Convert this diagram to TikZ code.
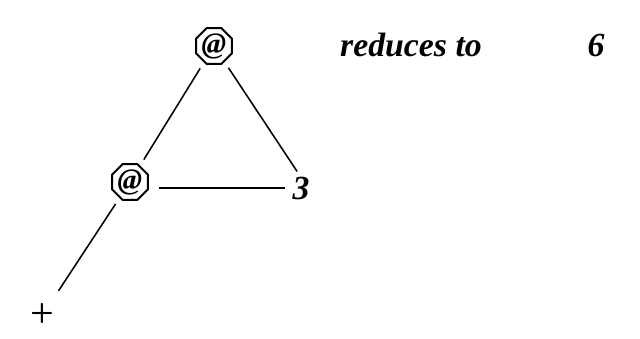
\documentclass[tikz,border=0pt]{standalone}
\usepackage{fontspec}
\setmainfont{Liberation Serif}
\usetikzlibrary{shapes.geometric}
\begin{document}
\begin{tikzpicture}[x=0.025cm, y=-0.025cm,
    every node/.style={font=\fontsize{24}{26}\selectfont\bfseries\itshape},
    apnode/.style={regular polygon, regular polygon sides=8, draw, line width=1.3pt,
      minimum size=0.72cm, inner sep=0pt, font=\fontsize{21}{22}\selectfont\bfseries\itshape},
    branch/.style={line width=1.1pt, shorten >=5pt, shorten <=5pt}]
    % Marco (640 x 339)
    \useasboundingbox (0,0) rectangle (640,339);
    % Nodos del arbol
    \node[apnode] (top) at (214,46) {@};
    \node[apnode] (app) at (130,182) {@};
    \node (three) at (301,188) {3};
    \node[font=\fontsize{30}{30}\selectfont] (plus) at (42,316) {+};
    % Resultado
    \node (red) at (411,45) {reduces to};
    \node (six) at (596,45) {6};
    % Ramas
    \draw[branch] (top) -- ([yshift=-4pt]three.north);
    \draw[branch] (top) -- (app);
    \draw[line width=1.1pt] ([xshift=7pt]app.east |- three.west) -- ([xshift=-2pt]three.west);
    \draw[branch, shorten >=7pt] (app) -- (plus);
\end{tikzpicture}
\end{document}
